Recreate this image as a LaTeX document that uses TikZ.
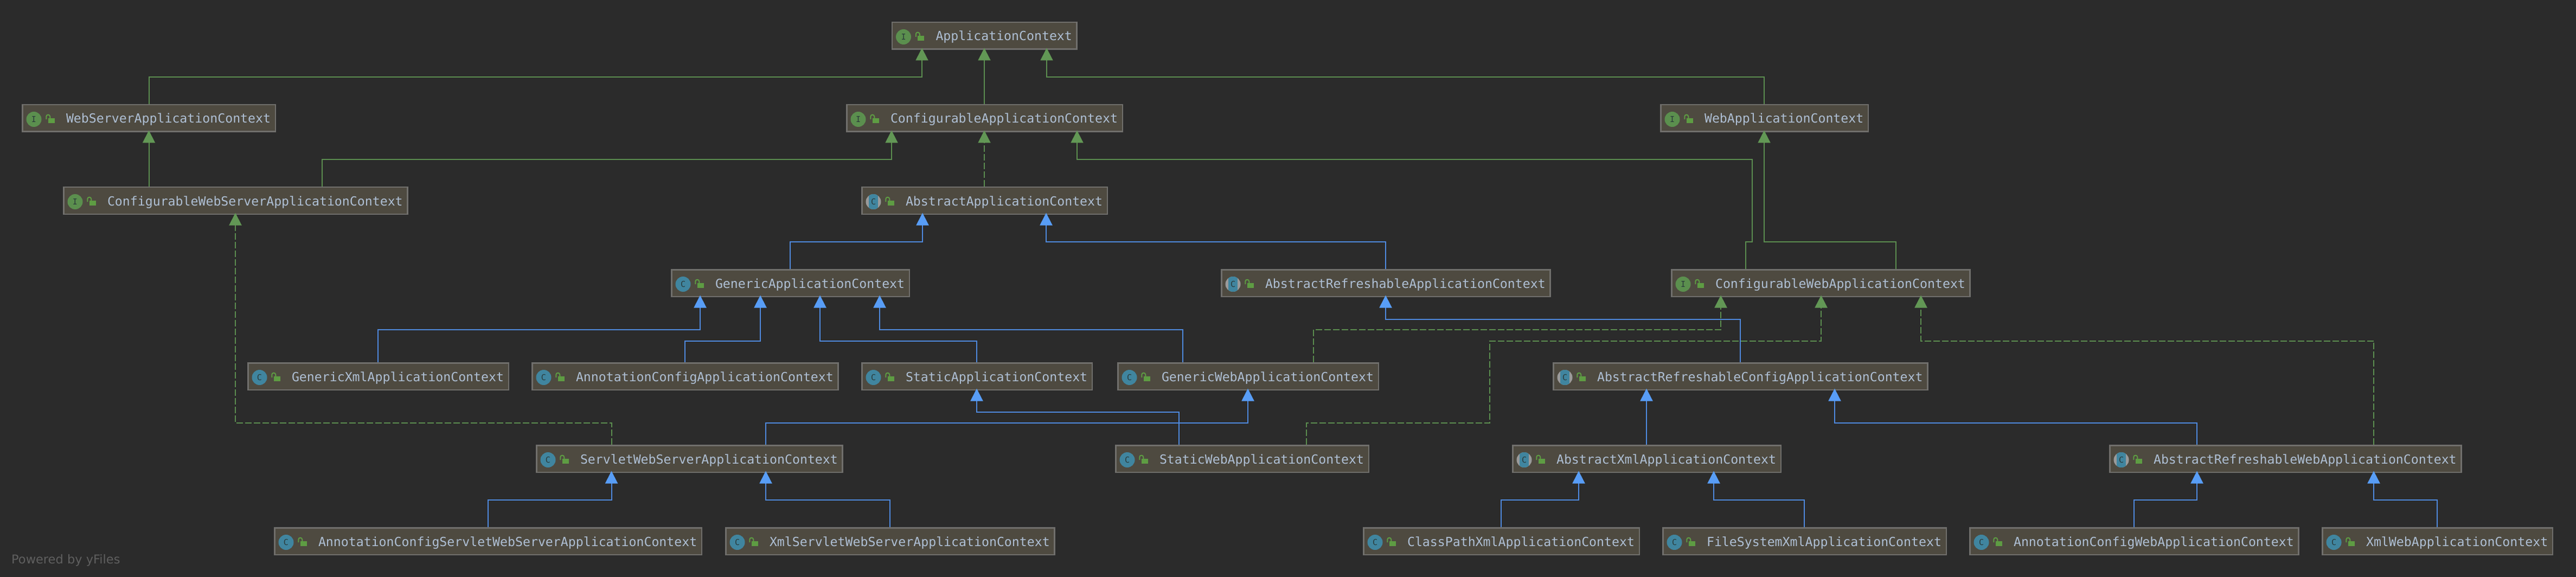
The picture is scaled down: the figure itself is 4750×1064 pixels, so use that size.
\documentclass[tikz,border=0pt]{standalone}
\usepackage{fontspec}
\usetikzlibrary{arrows.meta}
\newfontfamily\boxfont{DejaVu Sans Mono}[Ligatures=NoCommon]
\newfontfamily\capfont{DejaVu Sans}
\definecolor{bgcol}{HTML}{2B2B2B}
\definecolor{boxfill}{HTML}{4E4A40}
\definecolor{boxline}{HTML}{706F6C}
\definecolor{txtcol}{HTML}{AEBFD4}
\definecolor{greenline}{HTML}{5C8F50}
\definecolor{greenhead}{HTML}{629755}
\definecolor{blueline}{HTML}{4F8AE0}
\definecolor{bluehead}{HTML}{589DF6}
\definecolor{classblue}{HTML}{40859F}
\definecolor{ifacegreen}{HTML}{5B8F4E}
\definecolor{lockgreen}{HTML}{5E9C43}
\definecolor{iconink}{HTML}{2A3A3A}
\definecolor{ringgray}{HTML}{9A9A9A}
\definecolor{capcol}{HTML}{5F5F5F}
\tikzset{
  classbox/.style={draw=boxline,fill=boxfill,line width=2.5pt,rectangle,anchor=west,outer sep=0pt,
    inner xsep=8.75pt,inner ysep=0pt,text height=33.75pt,text depth=15.75pt,text=txtcol,
    font=\boxfont\fontsize{23.2}{28}\selectfont},
  iconbase/.style={circle,minimum size=28pt,inner sep=0pt,outer sep=0pt,text=iconink,
    font=\boxfont\fontsize{15}{18}\selectfont},
  ifaceicon/.style={iconbase,fill=ifacegreen},
  classicon/.style={iconbase,fill=classblue},
  abstracticon/.style={iconbase,fill=ringgray,path picture={
    \fill[classblue] ([xshift=-8.3pt]path picture bounding box.south) rectangle ([xshift=8.3pt]path picture bounding box.north);}},
  conn/.style={line width=2pt,shorten <=1.25pt,shorten >=-2.25pt},
  greensolid/.style={conn,draw=greenline,-{Triangle[width=23pt,length=23pt,fill=greenhead,color=greenhead]}},
  greendash/.style={greensolid,dash pattern=on 12pt off 4pt},
  bluesolid/.style={conn,draw=blueline,-{Triangle[width=23pt,length=23pt,fill=bluehead,color=bluehead]}},
  powered/.style={anchor=base west,inner sep=0pt,text=capcol,font=\capfont\fontsize{22.5}{27}\selectfont}
}
\def\ifaceiconname{ifaceicon}
\newcommand{\iconletter}[1]{\def\tmpname{#1}\ifx\tmpname\ifaceiconname I\else C\fi}
\newcommand{\cbox}[5]{%
  \node[classbox] (#1) at (#2+1.25,#3) {\hspace*{72pt}#5};
  \node[#4] (#1-icon) at ([shift={(21.25,2)}]#1.west) {\iconletter{#4}};
  \begin{scope}[shift={(#1.west)}]
    \fill[lockgreen] (47.25,0) rectangle (59.25,9.3);
    \draw[lockgreen,line width=2pt] (44,2) -- (44,-3) .. controls (44,-7.5) and (51,-7.5) .. (51,-3) -- (51,0);
  \end{scope}
}
\newcommand{\bentlink}[6]{\draw[#1] (#2.north -| #3,0) -- (#3,#4) -- (#6,#4) -- (#5.south -| #6,0);}
\newcommand{\straightlink}[4]{\draw[#1] (#2.north -| #3,0) -- (#4.south -| #3,0);}
\begin{document}
\begin{tikzpicture}[x=1pt,y=-1pt]
\fill[bgcol] (0,0) rectangle (4750,1064);
\useasboundingbox (0,0) rectangle (4750,1064);
% row 1
\cbox{ac}{1643.5}{66}{ifaceicon}{ApplicationContext}
% row 2
\cbox{wsac}{40}{218}{ifaceicon}{WebServerApplicationContext}
\cbox{cac}{1560}{218}{ifaceicon}{ConfigurableApplicationContext}
\cbox{wac}{3061}{218}{ifaceicon}{WebApplicationContext}
% row 3
\cbox{cwsac}{116}{370}{ifaceicon}{ConfigurableWebServerApplicationContext}
\cbox{aac}{1588}{370}{abstracticon}{AbstractApplicationContext}
% row 4
\cbox{gac}{1237}{522}{classicon}{GenericApplicationContext}
\cbox{arac}{2251}{522}{abstracticon}{AbstractRefreshableApplicationContext}
\cbox{cwac}{3081}{522}{ifaceicon}{ConfigurableWebApplicationContext}
% row 5
\cbox{gxac}{456}{694}{classicon}{GenericXmlApplicationContext}
\cbox{anac}{980}{694}{classicon}{AnnotationConfigApplicationContext}
\cbox{sac}{1588}{694}{classicon}{StaticApplicationContext}
\cbox{gwac}{2060}{694}{classicon}{GenericWebApplicationContext}
\cbox{arcac}{2863}{694}{abstracticon}{AbstractRefreshableConfigApplicationContext}
% row 6
\cbox{swsac}{988}{846}{classicon}{ServletWebServerApplicationContext}
\cbox{swac}{2056}{846}{classicon}{StaticWebApplicationContext}
\cbox{axac}{2788}{846}{abstracticon}{AbstractXmlApplicationContext}
\cbox{arwac}{3889}{846}{abstracticon}{AbstractRefreshableWebApplicationContext}
% row 7
\cbox{acswsac}{505}{998}{classicon}{AnnotationConfigServletWebServerApplicationContext}
\cbox{xswsac}{1337}{998}{classicon}{XmlServletWebServerApplicationContext}
\cbox{cpxac}{2513}{998}{classicon}{ClassPathXmlApplicationContext}
\cbox{fsxac}{3065}{998}{classicon}{FileSystemXmlApplicationContext}
\cbox{acwac}{3631}{998}{classicon}{AnnotationConfigWebApplicationContext}
\cbox{xwac}{4281}{998}{classicon}{XmlWebApplicationContext}
% caption
\node[powered] (cap) at (21,1039) {Powered by yFiles};
% dashed realisations
\straightlink{greendash}{aac}{1815}{cac}
\bentlink{greendash}{swsac}{1127.5}{780}{cwsac}{434}
\bentlink{greendash}{gwac}{2422}{608}{cwac}{3173}
\draw[greendash] (swac.north -| 2409,0) -- (2409,780) -- (2747,780) -- (2747,628.5) -- (3358,628.5) -- (cwac.south -| 3358,0);
\bentlink{greendash}{arwac}{4377}{628.5}{cwac}{3542}
% green inheritance
\bentlink{greensolid}{wsac}{274.5}{142}{ac}{1700}
\straightlink{greensolid}{cac}{1815}{ac}
\bentlink{greensolid}{wac}{3253}{142}{ac}{1930}
\straightlink{greensolid}{cwsac}{274.5}{wsac}
\bentlink{greensolid}{cwsac}{594}{294}{cac}{1644}
\draw[greensolid] (cwac.north -| 3219,0) -- (3219,446) -- (3231,446) -- (3231,294) -- (1986,294) -- (cac.south -| 1986,0);
\bentlink{greensolid}{cwac}{3496}{446}{wac}{3253}
% blue inheritance
\bentlink{bluesolid}{gac}{1457}{446}{aac}{1701}
\bentlink{bluesolid}{arac}{2555}{446}{aac}{1929}
\bentlink{bluesolid}{gxac}{697}{608}{gac}{1291}
\bentlink{bluesolid}{anac}{1263}{628.5}{gac}{1402}
\bentlink{bluesolid}{sac}{1801}{628.5}{gac}{1512}
\bentlink{bluesolid}{gwac}{2181}{608}{gac}{1622}
\bentlink{bluesolid}{arcac}{3209}{588.5}{arac}{2555}
\bentlink{bluesolid}{swsac}{1412}{780}{gwac}{2301}
\bentlink{bluesolid}{swac}{2173.5}{760}{sac}{1801}
\straightlink{bluesolid}{axac}{3036}{arcac}
\bentlink{bluesolid}{arwac}{4051}{780}{arcac}{3383}
\bentlink{bluesolid}{acswsac}{900}{922}{swsac}{1127.5}
\bentlink{bluesolid}{xswsac}{1641}{922}{swsac}{1412}
\bentlink{bluesolid}{cpxac}{2768}{922}{axac}{2911}
\bentlink{bluesolid}{fsxac}{3326.5}{922}{axac}{3160}
\bentlink{bluesolid}{acwac}{3935}{922}{arwac}{4051}
\bentlink{bluesolid}{xwac}{4494}{922}{arwac}{4377}
\end{tikzpicture}
\end{document}
